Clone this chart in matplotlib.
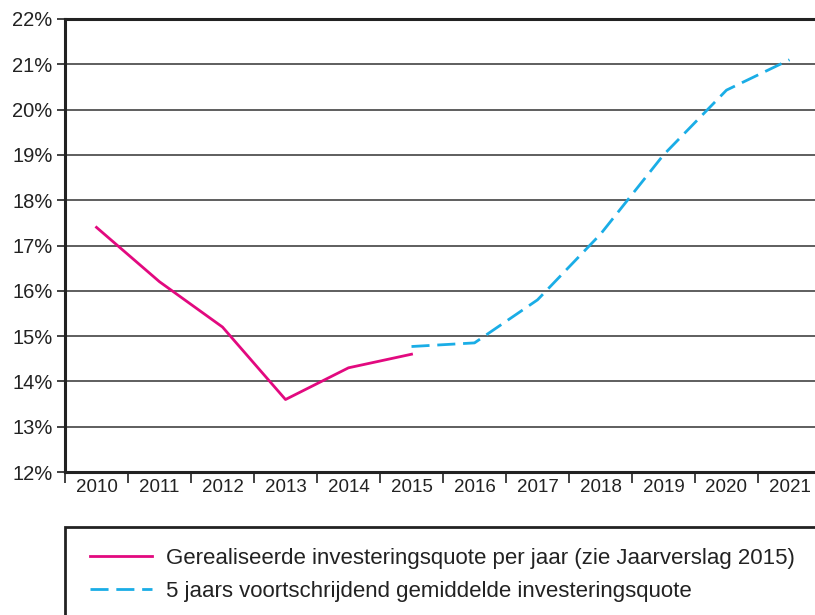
import matplotlib
matplotlib.use("Agg")
import matplotlib.pyplot as plt
from matplotlib.patches import Rectangle

# jaren en waarden (in procenten)
jaren = ["2010", "2011", "2012", "2013", "2014", "2015",
         "2016", "2017", "2018", "2019", "2020", "2021"]
gerealiseerd = [17.4, 16.2, 15.2, 13.6, 14.3, 14.6]
gemiddeld_jaren = jaren[5:]
gemiddeld = [14.77, 14.85, 15.8, 17.25, 19.0, 20.43, 21.1]
y_ticks = list(range(12, 23))

ROZE = "#e2097f"
BLAUW = "#1aade6"
DONKER = "#222222"

plt.rcParams["font.family"] = ["Liberation Sans", "DejaVu Sans"]

fig = plt.figure(figsize=(8.15, 6.15), dpi=100)
ax = fig.add_axes([65 / 815, 143 / 615, 756 / 815, 453 / 615])

x_pos = list(range(len(jaren)))
ax.set_xlim(-0.5, len(jaren) - 0.5)
ax.set_ylim(12, 22)

for y in y_ticks:
    ax.axhline(y, color="#333333", linewidth=1.1, zorder=1)

line1, = ax.plot(x_pos[:len(gerealiseerd)], gerealiseerd, color=ROZE,
                 linewidth=2.0, zorder=3)
x2 = [jaren.index(j) for j in gemiddeld_jaren]
line2, = ax.plot(x2, gemiddeld, color=BLAUW, linewidth=2.0, zorder=3)
line2.set_dashes((6.5, 2.8))

ax.set_yticks(y_ticks)
ax.set_yticklabels([f"{y}%" for y in y_ticks])
ax.set_xticks([i - 0.5 for i in range(len(jaren))])
ax.set_xticklabels([])
ax.set_xticks(x_pos, minor=True)
ax.set_xticklabels(jaren, minor=True)

ax.tick_params(axis="y", length=6, width=1.2, color=DONKER, labelsize=14.5,
               pad=3, labelcolor="#222222")
ax.tick_params(axis="x", which="major", length=8, width=1.2, color=DONKER,
               direction="out")
ax.tick_params(axis="x", which="minor", length=0, labelsize=13.5, pad=5,
               labelcolor="#222222")

for side in ["left", "bottom", "top"]:
    ax.spines[side].set_linewidth(2.2)
    ax.spines[side].set_color(DONKER)
ax.spines["right"].set_visible(False)

# legenda-kader onderaan
kader = Rectangle((65 / 815, -0.05), 1.0, (615 - 527) / 615 + 0.05,
                  transform=fig.transFigure, fill=False, edgecolor=DONKER,
                  linewidth=2.0)
fig.patches.append(kader)

leg = fig.legend([line1, line2],
                 ["Gerealiseerde investeringsquote per jaar (zie Jaarverslag 2015)",
                  "5 jaars voortschrijdend gemiddelde investeringsquote"],
                 loc="upper left", bbox_to_anchor=(70 / 815, 1 - 528 / 615),
                 frameon=False, fontsize=16, handlelength=2.8,
                 handletextpad=0.6, labelspacing=0.53)
for t in leg.get_texts():
    t.set_color("#222222")

fig.savefig("out.png", dpi=100)
